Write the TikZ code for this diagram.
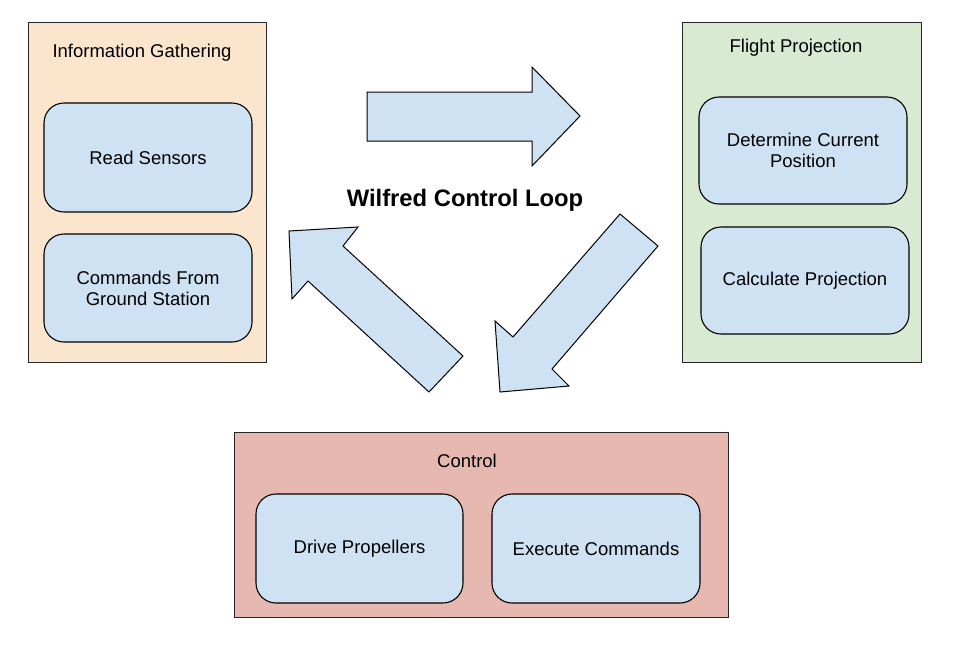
\documentclass[tikz,border=0pt]{standalone}
\usepackage{fontspec}
\setmainfont{Liberation Sans}
\definecolor{peach}{HTML}{FCE5CD}
\definecolor{mint}{HTML}{D9EAD3}
\definecolor{rose}{HTML}{E6B8AF}
\definecolor{sky}{HTML}{CFE2F3}
\tikzset{
  stage/.style={draw=black!85, line width=0.9pt, minimum width=#1},
  task/.style={draw=black, fill=sky, line width=1.1pt, rounded corners=20pt,
    minimum width=208pt, minimum height=108pt, align=center, inner sep=0pt},
  label/.style={font=\fontsize{18.5}{21}\selectfont, align=center},
  blockarrow/.style={draw=black, fill=sky, line width=1pt, line join=miter}
}
\begin{document}
\begin{tikzpicture}[x=1pt, y=-1pt]
\useasboundingbox (0,0) rectangle (960,651);
% Stages
\node[stage=238pt, fill=peach, minimum height=340pt] (info) at (147,192) {};
\node[stage=239pt, fill=mint, minimum height=340pt] (flight) at (801.5,192) {};
\node[stage=494pt, fill=rose, minimum height=185pt] (ctrl) at (481,524.5) {};
\node[label] (infotitle) at (142,53) {Information Gathering};
\node[label] (flighttitle) at (796,48) {Flight Projection};
\node[label] (ctrltitle) at (467,461) {Control};
% Tasks
\node[task, label, minimum height=109pt] (readsens) at (148,157.5) {Read Sensors};
\node[task, label] (groundcmd) at (148,288) {Commands From\\Ground Station};
\node[task, label, minimum height=107pt] (curpos) at (803,150.5) {Determine Current\\Position};
\node[task, label, minimum height=107pt] (calcproj) at (805,280.5) {Calculate Projection};
\node[task, label, minimum width=207pt, minimum height=109pt] (drive) at (359.5,548.5) {Drive Propellers};
\node[task, label, minimum height=109pt] (execcmd) at (596,548.5) {Execute Commands};
% Loop
\node[font=\fontsize{23.8}{28}\selectfont\bfseries] (looptitle) at (465,200) {Wilfred Control Loop};
\draw[blockarrow] (367,92) -- (532,92) -- (532,67) -- (580,116) -- (532,166) -- (532,141) -- (367,141) -- cycle;
\draw[blockarrow] (620,214) -- (658,246) -- (552,369) -- (569,386) -- (500,392) -- (495,321) -- (513,337) -- cycle;
\draw[blockarrow] (463,356) -- (429,392) -- (308,281) -- (292,299) -- (289,231) -- (358,227) -- (343,246) -- cycle;
\end{tikzpicture}
\end{document}
